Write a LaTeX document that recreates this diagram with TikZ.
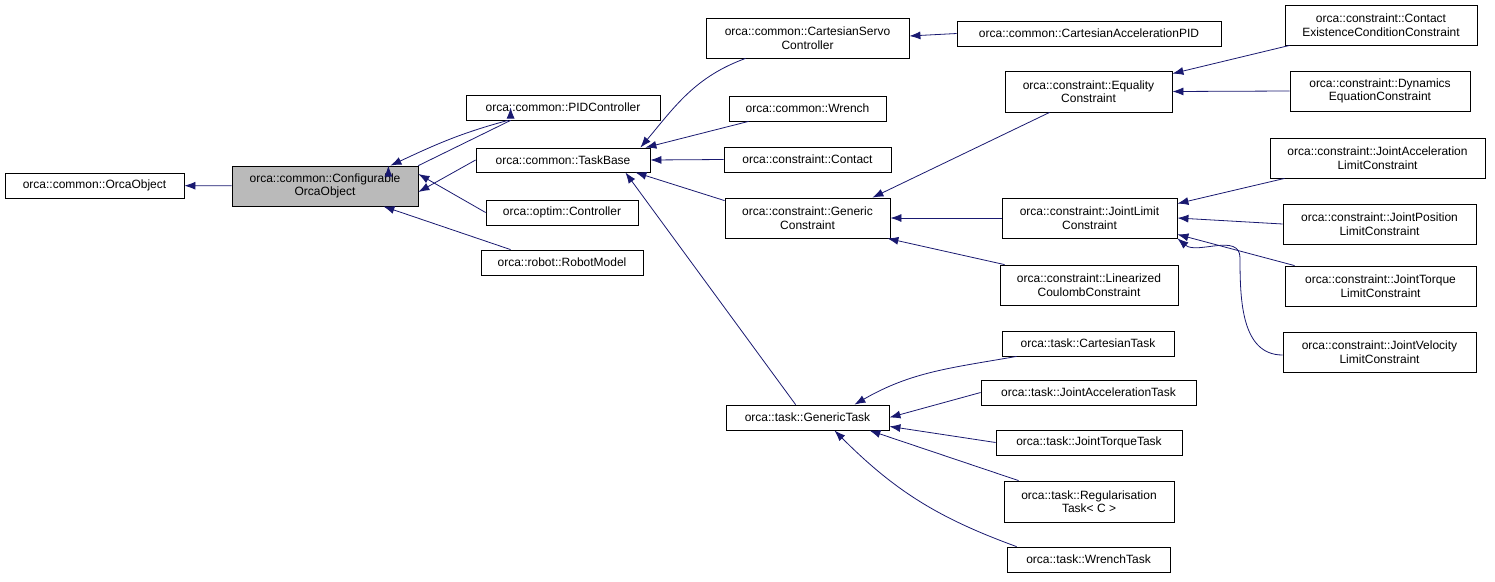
\documentclass[tikz,border=0pt]{standalone}
\usepackage{fontspec}
\setmainfont{Liberation Sans}
\usetikzlibrary{arrows.meta}
\definecolor{edgec}{RGB}{25,25,112}
\begin{document}
\begin{tikzpicture}[x=1pt,y=-1pt,
  box/.style={draw,thick,inner sep=0pt,font=\fontsize{12}{13.5}\selectfont,align=center},
  edge/.style={draw=edgec,thick,-{Latex[length=11pt,width=8pt]}}]
\useasboundingbox (0,0) rectangle (1495,581);
\newcommand\bx[6]{\node[box,minimum width={(#4-#2)*1pt},minimum height={(#5-#3)*1pt}] (#1) at ({(#2+#4)/2},{(#3+#5)/2}) {#6};}
\bx{oo}{5}{173}{184}{198}{orca::common::OrcaObject}
\node[box,fill=black!27,minimum width=186pt,minimum height=40pt] (co) at (325,186) {orca::common::Configurable\\OrcaObject};
\bx{pid}{466}{95}{660}{120}{orca::common::PIDController}
\bx{tb}{476}{148}{650}{172}{orca::common::TaskBase}
\bx{oc}{486}{200}{638}{225}{orca::optim::Controller}
\bx{rm}{481}{250}{643}{275}{orca::robot::RobotModel}
\bx{csc}{706}{18}{909}{58}{orca::common::CartesianServo\\Controller}
\bx{wr}{729}{96}{886}{121}{orca::common::Wrench}
\bx{ct}{724}{147}{891}{172}{orca::constraint::Contact}
\bx{gc}{725}{198}{890}{238}{orca::constraint::Generic\\Constraint}
\bx{gt}{726}{405}{889}{430}{orca::task::GenericTask}
\bx{cap}{957}{21}{1221}{46}{orca::common::CartesianAccelerationPID}
\bx{eq}{1005}{71}{1172}{112}{orca::constraint::Equality\\Constraint}
\bx{jl}{1002}{198}{1177}{238}{orca::constraint::JointLimit\\Constraint}
\bx{lc}{1000}{265}{1178}{305}{orca::constraint::Linearized\\CoulombConstraint}
\bx{cta}{1002}{331}{1174}{356}{orca::task::CartesianTask}
\bx{jat}{981}{380}{1196}{405}{orca::task::JointAccelerationTask}
\bx{jtt}{996}{430}{1182}{455}{orca::task::JointTorqueTask}
\bx{reg}{1004}{481}{1174}{522}{orca::task::Regularisation\\Task< C >}
\bx{wt}{1007}{547}{1170}{572}{orca::task::WrenchTask}
\bx{cec}{1285}{5}{1477}{45}{orca::constraint::Contact\\ExistenceConditionConstraint}
\bx{dyn}{1290}{71}{1470}{111}{orca::constraint::Dynamics\\EquationConstraint}
\bx{jal}{1270}{138}{1485}{178}{orca::constraint::JointAcceleration\\LimitConstraint}
\bx{jpl}{1283}{204}{1476}{244}{orca::constraint::JointPosition\\LimitConstraint}
\bx{jtl}{1285}{266}{1476}{306}{orca::constraint::JointTorque\\LimitConstraint}
\bx{jvl}{1283}{332}{1476}{372}{orca::constraint::JointVelocity\\LimitConstraint}
\draw[edge] (co) -- (oo);
\draw[edge] (pid.west) ++(45pt,0) coordinate (p1);
\draw[edge] (pid.south west) ++(45,0) -- (co.north east) ++(-30,0);
\path (pid.south) ++(-55,0) coordinate (a1);
\draw[edge] (a1) to[out=195,in=25] ([xshift=-28pt]co.north east);
\draw[edge] (tb.west) -- ([yshift=-6pt]co.east);
\draw[edge] (oc.west) -- ([yshift=12pt]co.east);
\draw[edge] ([xshift=30pt]rm.north west) -- ([xshift=-35pt]co.south east);
\draw[edge] ([xshift=40pt]csc.south west) to[out=200,in=50] ([xshift=-10pt]tb.north east);
\draw[edge] ([xshift=20pt]wr.south west) -- ([xshift=-5pt]tb.north east);
\draw[edge] (ct.west) -- (tb.east);
\draw[edge] ([yshift=-3pt]gc.north west) -- ([xshift=-15pt,yshift=0pt]tb.south east);
\draw[edge] ([xshift=70pt]gt.north west) -- ([xshift=-25pt]tb.south east);
\draw[edge] (cap.west) -- ([yshift=2pt]csc.east);
\draw[edge] ([xshift=45pt]eq.south west) -- ([xshift=-18pt]gc.north east);
\draw[edge] (jl.west) -- (gc.east);
\draw[edge] ([xshift=5pt]lc.north west) -- ([xshift=-3pt]gc.south east);
\draw[edge] ([xshift=5pt]cec.south west) -- ([yshift=-3pt]eq.north east);
\draw[edge] (dyn.west) -- ([yshift=0pt]eq.east);
\draw[edge] ([xshift=15pt]jal.south west) -- ([yshift=-6pt]jl.north east);
\draw[edge] (jpl.west) -- (jl.east);
\draw[edge] ([xshift=10pt]jtl.north west) -- ([yshift=4pt]jl.south east);
\draw[edge] ([yshift=-3pt]jvl.west) to[out=180,in=270] (1240,258) to[out=90,in=-40] (jl.south east);
\draw[edge] ([xshift=15pt]cta.south west) to[out=190,in=30] ([xshift=-35pt]gt.north east);
\draw[edge] (jat.west) -- (gt.east);
\draw[edge] (jtt.west) -- ([yshift=4pt]gt.south east);
\draw[edge] ([xshift=15pt]reg.north west) -- ([xshift=-20pt]gt.south east);
\draw[edge] ([xshift=10pt]wt.north west) to[out=160,in=-45] ([xshift=-55pt]gt.south east);
\end{tikzpicture}
\end{document}
